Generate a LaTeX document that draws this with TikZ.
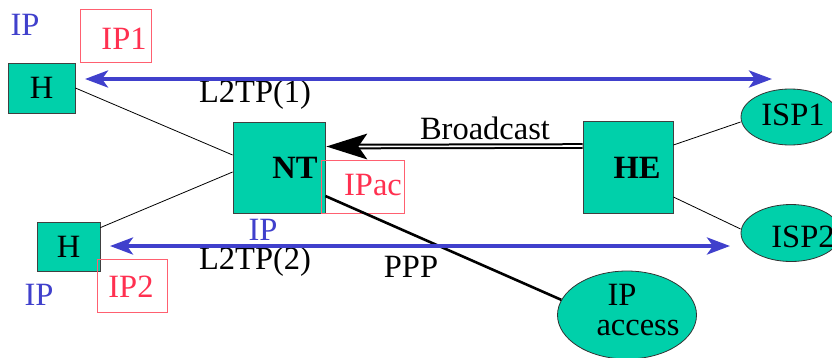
\documentclass[tikz,border=0pt]{standalone}
\usepackage{fontspec}
\setmainfont{Liberation Serif}
\usetikzlibrary{arrows.meta,shapes.geometric,calc}
\definecolor{tealfill}{HTML}{00D0AA}
\definecolor{redc}{HTML}{FF3050}
\definecolor{redbox}{HTML}{FF6070}
\definecolor{blu}{HTML}{4040CC}
\begin{document}
\begin{tikzpicture}[x=1pt,y=-1pt,
  big/.style={font=\fontsize{32.5}{34}\selectfont},
  bigbf/.style={font=\fontsize{32.5}{34}\selectfont\bfseries},
  box/.style={draw=black!75, line width=0.8pt, fill=tealfill, inner sep=0pt, big},
  isp/.style={ellipse, draw=black!80, line width=0.8pt, fill=tealfill, inner sep=0pt},
  addr/.style={draw=redbox, line width=0.8pt, inner sep=0pt},
  addrtext/.style={big, text=redc, inner sep=0pt},
  bltext/.style={big, text=blu, inner sep=0pt},
  lbl/.style={big, inner sep=0pt},
  wire/.style={draw=black, line width=0.8pt},
  thickwire/.style={draw=black, line width=2.6pt},
  tunnel/.style={draw=blu, line width=4pt, {Stealth[length=23pt,width=17pt,inset=6pt]}-{Stealth[length=23pt,width=17pt,inset=6pt]}}
]
\useasboundingbox (0,0) rectangle (832,357);

% nodes
\node[box, minimum width=67pt, minimum height=50pt] (h1) at (41.5,88) {H};
\node[box, minimum width=63pt, minimum height=49pt] (h2) at (68.5,246.5) {H};
\node[box, minimum width=92pt, minimum height=91pt] (nt) at (279,167.5) {};
\node[bigbf, inner sep=0pt] (ntl) at (295,168) {NT};
\node[box, minimum width=90pt, minimum height=92pt] (he) at (628,167) {};
\node[bigbf, inner sep=0pt] (hel) at (637,168) {HE};
\node[isp, minimum width=98pt, minimum height=56pt] (isp1) at (790,117) {};
\node[lbl] (isp1l) at (793,115) {ISP1};
\node[isp, minimum width=100pt, minimum height=57pt] (isp2) at (791,233) {};
\node[lbl] (isp2l) at (803,237) {ISP2};
\node[isp, minimum width=139pt, minimum height=88pt] (ipa) at (627,315) {};
\node[lbl] (ipal1) at (622,295) {IP};
\node[lbl] (ipal2) at (638,328) {access};

% red address boxes
\node[addr, minimum width=71pt, minimum height=53pt] (ip1b) at (115.5,35.5) {};
\node[addrtext] (ip1t) at (124,39) {IP1};
\node[addr, minimum width=83pt, minimum height=53pt] (ipacb) at (362.5,186.5) {};
\node[addrtext] (ipact) at (373,185) {IPac};
\node[addr, minimum width=70pt, minimum height=53pt] (ip2b) at (132,285.5) {};
\node[addrtext] (ip2t) at (131,287) {IP2};

% blue IP labels
\node[bltext] (ipa1) at (25,25) {IP};
\node[bltext] (ipa2) at (39,295) {IP};
\node[bltext] (ipa3) at (263,230) {IP};

% black labels
\node[lbl] (l2tp1) at (255,95) {L2TP(1)};
\node[lbl] (l2tp2) at (255,262) {L2TP(2)};
\node[lbl] (ppp) at (411,267) {PPP};
\node[lbl] (bc) at (485,128) {Broadcast};

% thin links
\draw[wire] (h1.east) -- ([yshift=12.5pt]nt.west);
\draw[wire] ([yshift=-6pt]h2.north east) -- ([yshift=-4.5pt]nt.west);
\draw[wire] ([yshift=22pt]he.east) -- ([yshift=-5pt]isp1.west);
\draw[wire] ([yshift=-30pt]he.east) -- ([yshift=4pt]isp2.west);

% PPP link
\draw[thickwire] ([yshift=-28.5pt]nt.east) -- (ipa.167);

% broadcast
\draw[draw=black, line width=2pt, double=white, double distance=1.6pt] ([yshift=21pt]he.west) -- ([yshift=21pt,xshift=30pt]nt.east);
\fill[black] ([yshift=21pt,xshift=1pt]nt.east) -- ++(41,-13) -- ++(-9,13) -- ++(9,13) -- cycle;

% L2TP tunnels
\coordinate (t1a) at (85,79);
\coordinate (t1b) at (772,79);
\coordinate (t2a) at (110,246);
\coordinate (t2b) at (730,246);
\draw[tunnel] (t1a) -- (t1b);
\draw[tunnel] (t2a) -- (t2b);
\end{tikzpicture}
\end{document}
